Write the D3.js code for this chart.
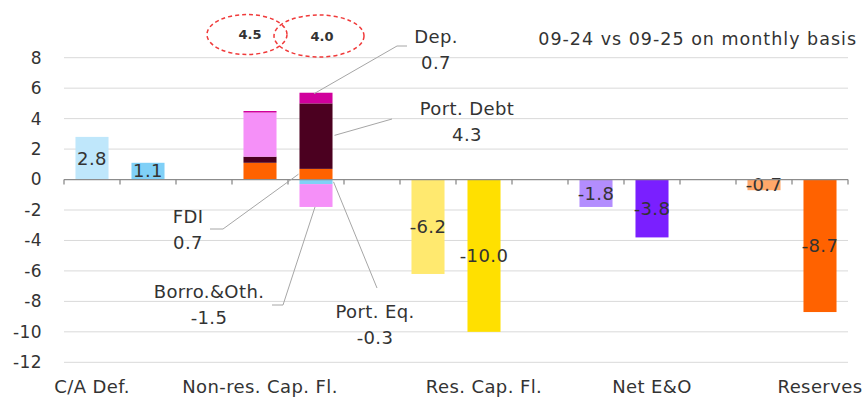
<!DOCTYPE html>
<html>
<head>
<meta charset="utf-8">
<script src="https://cdn.jsdelivr.net/npm/d3@7"></script>
<style>
  body { margin: 0; background: #fff; }
  svg text { font-family: "DejaVu Sans", "Open Sans", sans-serif; fill: #333; letter-spacing: 0.4px; }
</style>
</head>
<body>
<svg id="chart" width="866" height="402"></svg>
<script>
// category slots on the x axis (14 slots, labels only on a few)
const slotCount = 14;
const catLabels = ['C/A Def.', 'Non-res. Cap. Fl.', 'Res. Cap. Fl.', 'Net E&O', 'Reserves'];
const catLabelSlots = [0, 3, 7, 10, 13];

// simple bars: 09-24 then 09-25 for each block
const barSlots = [0, 1, 6, 7, 9, 10, 12, 13];
const barValues = [2.8, 1.1, -6.2, -10.0, -1.8, -3.8, -0.7, -8.7];
const barColors = ['#bfe7fb', '#80d0f7', '#ffe96f', '#ffe000', '#b38dfe', '#7a1fff', '#ffa86a', '#ff6200'];

// stacked non-resident capital flows
const stackSlots = [3, 4];
const stackKeys = ['FDI', 'Port. Eq.', 'Port. Debt', 'Borro.&Oth.', 'Dep.'];
const stack2024 = [1.1, 0, 0.4, 2.9, 0.1];
const stack2025 = [0.7, -0.3, 4.3, -1.5, 0.7];
const stackColors = ['#ff6200', '#80d0f7', '#4b0020', '#f590f8', '#d0009c'];
const stackTotals = ['4.5', '4.0'];

const yTicks = [-12, -10, -8, -6, -4, -2, 0, 2, 4, 6, 8];

const svg = d3.select("#chart");
const fmt = v => v.toFixed(1); // keep plain hyphen like the original

const x = d3.scaleBand()
    .domain(d3.range(slotCount))
    .range([64, 848]);
const barW = x.bandwidth() * 0.59;
const y = d3.scaleLinear().domain([-12, 8]).range([362.3, 57.7]);

// gridlines
svg.append("g").selectAll("line")
    .data(yTicks.filter(d => d !== 0))
    .enter().append("line")
    .attr("x1", 64).attr("x2", 848)
    .attr("y1", d => y(d)).attr("y2", d => y(d))
    .attr("stroke", "#d9d9d9").attr("stroke-width", 1);

// y axis labels
svg.append("g").selectAll("text")
    .data(yTicks)
    .enter().append("text")
    .attr("x", 42)
    .attr("y", d => y(d))
    .attr("dy", "0.35em")
    .attr("text-anchor", "end")
    .style("font-size", "17px")
    .text(d => String(d));

// simple bars
const barData = barValues.map((v, i) => ({ slot: barSlots[i], value: v, color: barColors[i] }));
svg.append("g").selectAll("rect")
    .data(barData)
    .enter().append("rect")
    .attr("x", d => x(d.slot) + (x.bandwidth() - barW) / 2)
    .attr("width", barW)
    .attr("y", d => y(Math.max(0, d.value)))
    .attr("height", d => Math.abs(y(d.value) - y(0)))
    .attr("fill", d => d.color);

svg.append("g").selectAll("text")
    .data(barData)
    .enter().append("text")
    .attr("x", d => x(d.slot) + x.bandwidth() / 2)
    .attr("y", d => (y(d.value) + y(0)) / 2)
    .attr("dy", "0.35em")
    .attr("text-anchor", "middle")
    .style("font-size", "18px")
    .text(d => fmt(d.value));

// stacked bars
const stackRows = [stack2024, stack2025].map((vals, i) => {
    const row = { slot: stackSlots[i] };
    stackKeys.forEach((k, j) => row[k] = vals[j]);
    return row;
});
const series = d3.stack().keys(stackKeys).offset(d3.stackOffsetDiverging)(stackRows);

svg.append("g").selectAll("g")
    .data(series)
    .enter().append("g")
    .attr("fill", (d, i) => stackColors[i])
    .selectAll("rect")
    .data(d => d)
    .enter().append("rect")
    .attr("x", d => x(d.data.slot) + (x.bandwidth() - barW) / 2)
    .attr("width", barW)
    .attr("y", d => y(Math.max(d[0], d[1])))
    .attr("height", d => Math.abs(y(d[0]) - y(d[1])));

// zero axis with ticks
svg.append("line")
    .attr("x1", 64).attr("x2", 848)
    .attr("y1", y(0)).attr("y2", y(0))
    .attr("stroke", "#8c8c8c").attr("stroke-width", 1.3);
svg.append("g").selectAll("line")
    .data(d3.range(slotCount + 1))
    .enter().append("line")
    .attr("x1", d => 64 + d * x.step()).attr("x2", d => 64 + d * x.step())
    .attr("y1", y(0)).attr("y2", y(0) + 5)
    .attr("stroke", "#8c8c8c").attr("stroke-width", 1.3);

// category labels
svg.append("g").selectAll("text")
    .data(catLabels)
    .enter().append("text")
    .attr("x", (d, i) => x(catLabelSlots[i]) + x.bandwidth() / 2)
    .attr("y", 393)
    .attr("text-anchor", "middle")
    .style("font-size", "18px")
    .text(d => d);

// dashed ellipses with totals
const ellipseOffsets = [[-13, 34.5, 40, 20], [3, 36, 45, 21]];
stackTotals.forEach((t, i) => {
    const cx = x(stackSlots[i]) + x.bandwidth() / 2 + ellipseOffsets[i][0];
    svg.append("ellipse")
        .attr("cx", cx).attr("cy", ellipseOffsets[i][1])
        .attr("rx", ellipseOffsets[i][2]).attr("ry", ellipseOffsets[i][3])
        .attr("fill", "none")
        .attr("stroke", "#f03a3a")
        .attr("stroke-width", 1.5)
        .attr("stroke-dasharray", "4,3");
    svg.append("text")
        .attr("x", cx + 3).attr("y", ellipseOffsets[i][1])
        .attr("dy", "0.35em")
        .attr("text-anchor", "middle")
        .style("font-size", "13px")
        .style("font-weight", "bold")
        .style("letter-spacing", "0px")
        .text(t);
});

// callouts for the 09-25 stack
const seg = k => series[stackKeys.indexOf(k)][1];
const bx0 = x(4) + (x.bandwidth() - barW) / 2, bx1 = bx0 + barW, bxm = (bx0 + bx1) / 2;
const callouts = [
    { key: 'Dep.', from: [bxm - 2, y(seg('Dep.')[1]) + 1], path: [[397, 46], [407, 46]], tx: 436, ty: 43 },
    { key: 'Port. Debt', from: [bx1 + 2, y(2.9)], path: [[392, 119]], tx: 467, ty: 115 },
    { key: 'FDI', from: [bx0 - 1, y(0.35)], path: [[223, 229], [210, 229]], tx: 188, ty: 223 },
    { key: 'Borro.&Oth.', from: [bxm - 1, y(seg('Borro.&Oth.')[0])], path: [[283, 305], [272, 305]], tx: 209, ty: 298 },
    { key: 'Port. Eq.', from: [bx1 + 1, y(-0.15)], path: [[377, 288]], tx: 375, ty: 318 }
];
callouts.forEach(c => {
    svg.append("path")
        .attr("d", d3.line()([c.from].concat(c.path)))
        .attr("fill", "none")
        .attr("stroke", "#a6a6a6")
        .attr("stroke-width", 1);
    const v = stack2025[stackKeys.indexOf(c.key)];
    const t = svg.append("text")
        .attr("text-anchor", "middle")
        .style("font-size", "18px");
    t.append("tspan").attr("x", c.tx).attr("y", c.ty).text(c.key);
    t.append("tspan").attr("x", c.tx).attr("y", c.ty + 26).text(fmt(v));
});

// subtitle
svg.append("text")
    .attr("x", 857).attr("y", 45)
    .attr("text-anchor", "end")
    .style("font-size", "17.5px")
    .style("letter-spacing", "1px")
    .text("09-24 vs 09-25 on monthly basis");
</script>
</body>
</html>
